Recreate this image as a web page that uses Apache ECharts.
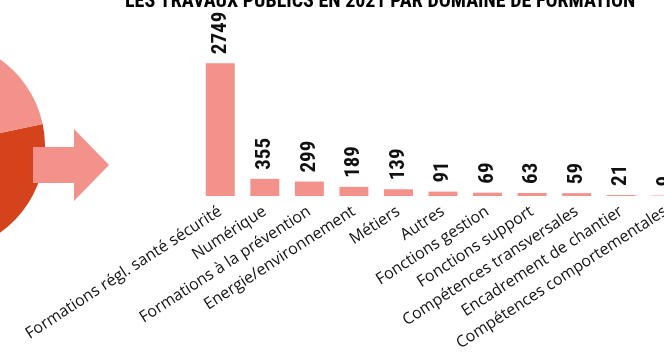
<!DOCTYPE html>
<html>
<head>
<meta charset="utf-8">
<script src="https://cdn.jsdelivr.net/npm/echarts@6/dist/echarts.min.js"></script>
<style>
  html, body { margin: 0; padding: 0; background: #fff; }
  #chart { width: 664px; height: 361px; }
</style>
</head>
<body>
<div id="chart"></div>
<script>
// Training domains and number of trainees per domain
const categories = [
  'Formations régl. santé sécurité',
  'Numérique',
  'Formations à la prévention',
  'Energie/environnement',
  'Métiers',
  'Autres',
  'Fonctions gestion',
  'Fonctions support',
  'Compétences transversales',
  'Encadrement de chantier',
  'Compétences comportementales'
];
const traineeCounts = [2749, 355, 299, 189, 139, 91, 69, 63, 59, 21, 9];

// Overall split shown in the side pie
const pieNames = ['Autres domaines', 'Domaines détaillés'];
const pieValues = [50, 50];

const titleText = 'LES TRAVAUX PUBLICS EN 2021 PAR DOMAINE DE FORMATION';

const SALMON = '#F3928A';
const RUST = '#D5431C';
const condensed = '"Roboto Condensed", "Open Sans Condensed", sans-serif';

const chart = echarts.init(document.getElementById('chart'), null, { renderer: 'canvas' });

chart.setOption({
  animation: false,
  backgroundColor: '#fff',
  title: {
    text: titleText,
    left: 120,
    top: -13,
    textStyle: {
      fontFamily: condensed,
      fontWeight: 'bold',
      fontSize: 20,
      lineHeight: 20,
      color: '#000'
    }
  },
  grid: {
    left: 198,
    top: 51,
    width: 490,
    height: 145,
    outerBoundsMode: 'none',
    containLabel: false
  },
  xAxis: {
    type: 'category',
    data: categories,
    axisLine: { show: false },
    axisTick: { show: false },
    axisLabel: {
      interval: 0,
      rotate: 33,
      margin: 14,
      fontFamily: '"Open Sans", sans-serif',
      fontSize: 16,
      color: '#111'
    }
  },
  yAxis: {
    type: 'value',
    min: 0,
    max: 3000,
    show: false
  },
  series: [
    {
      type: 'pie',
      center: [-61, 146],
      radius: 106,
      startAngle: 12,
      clockwise: true,
      silent: true,
      label: { show: false },
      labelLine: { show: false },
      data: pieNames.map((n, i) => ({
        name: n,
        value: pieValues[i],
        itemStyle: { color: i === 0 ? RUST : SALMON }
      }))
    },
    {
      type: 'bar',
      data: traineeCounts,
      barCategoryGap: '35%',
      itemStyle: { color: SALMON },
      label: {
        show: true,
        position: 'top',
        rotate: 90,
        align: 'left',
        verticalAlign: 'middle',
        distance: 9,
        fontFamily: condensed,
        fontWeight: 'bold',
        fontSize: 21,
        color: '#111'
      }
    }
  ],
  graphic: [
    {
      type: 'polygon',
      z: 10,
      shape: {
        points: [[33, 147], [74, 147], [74, 129], [109, 165], [74, 201], [74, 183], [33, 183]]
      },
      style: { fill: SALMON }
    }
  ]
});
</script>
</body>
</html>
